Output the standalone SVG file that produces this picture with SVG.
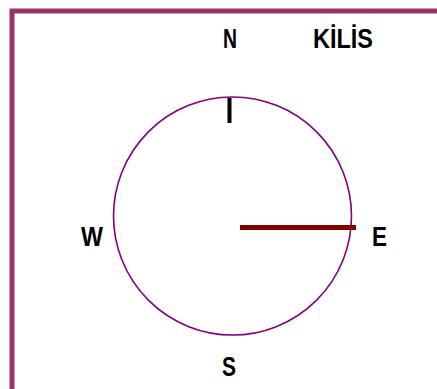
<svg xmlns="http://www.w3.org/2000/svg" width="437" height="389" viewBox="0 0 437 389">
<style>
.lbl{font-family:"Liberation Sans Narrow","Liberation Sans",Arial,sans-serif;font-weight:bold;font-size:27px;fill:#000}
</style>
<rect width="437" height="389" fill="#fff"/>
<g id="frame">
<path d="M12 389 V11 H437" fill="none" stroke="#993366" stroke-width="5"/>
</g>
<g id="compass">
<circle cx="232.5" cy="216" r="119" fill="none" stroke="#800080" stroke-width="1.6"/>
<line x1="229.5" y1="98" x2="229.5" y2="123" stroke="#000" stroke-width="4"/>
</g>
<g id="needle">
<line x1="240" y1="227.5" x2="356" y2="227.5" stroke="#800000" stroke-width="5"/>
</g>
<g id="labels">
<text class="lbl" x="223" y="48" textLength="14" lengthAdjust="spacingAndGlyphs">N</text>
<text class="lbl" x="313" y="48" textLength="60" lengthAdjust="spacingAndGlyphs">KİLİS</text>
<text class="lbl" x="81" y="246" textLength="22" lengthAdjust="spacingAndGlyphs">W</text>
<text class="lbl" x="372" y="246" textLength="15" lengthAdjust="spacingAndGlyphs">E</text>
<text class="lbl" x="222" y="376" textLength="14" lengthAdjust="spacingAndGlyphs">S</text>
</g>
</svg>
